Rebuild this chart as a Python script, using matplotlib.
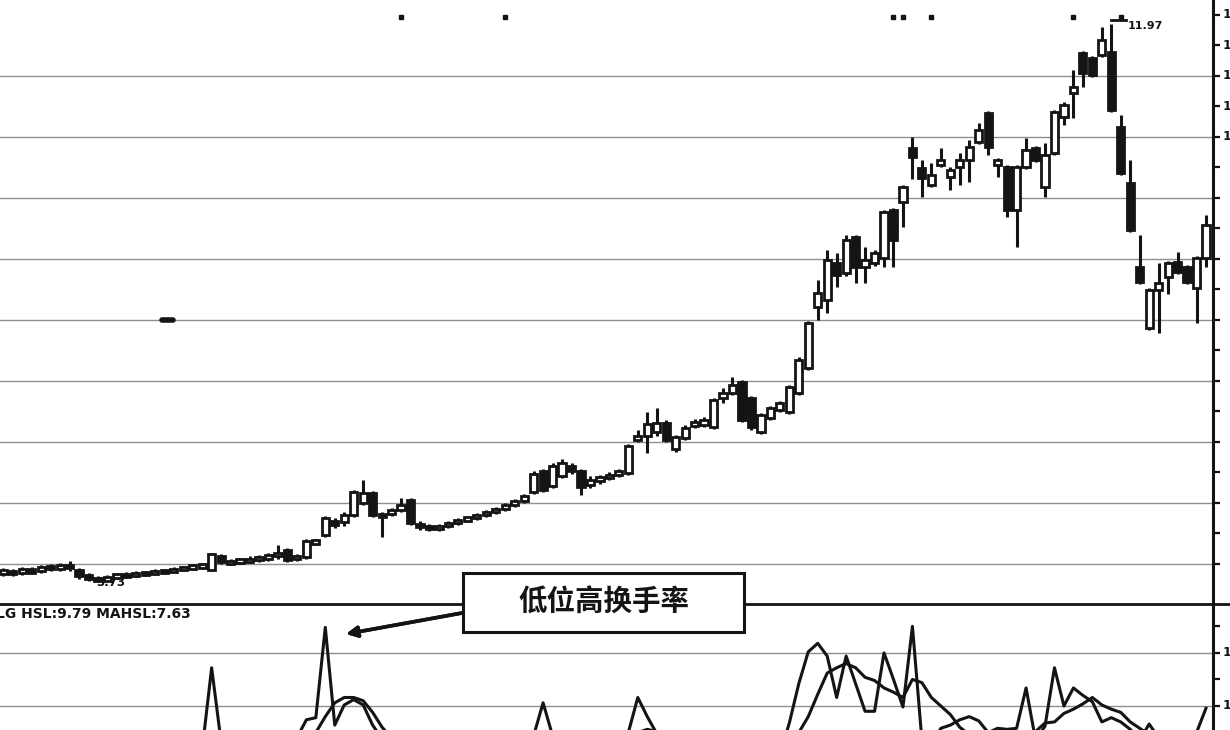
import matplotlib
matplotlib.use("Agg")
import matplotlib.pyplot as plt
from matplotlib.patches import Rectangle
from matplotlib.lines import Line2D

# daily candles (price), left to right
opens = [
    3.85, 3.90, 3.87, 3.91, 3.90, 3.96, 3.93, 3.98, 3.91, 3.84,
    3.79, 3.75, 3.81, 3.84, 3.82, 3.87, 3.85, 3.90, 3.88, 3.93,
    3.94, 3.96, 3.91, 4.12, 4.01, 4.03, 4.04, 4.06, 4.09, 4.12,
    4.21, 4.07, 4.10, 4.31, 4.43, 4.63, 4.62, 4.72, 4.90, 5.05,
    4.74, 4.74, 4.80, 4.94, 4.59, 4.55, 4.52, 4.56, 4.60, 4.65,
    4.68, 4.72, 4.77, 4.81, 4.87, 4.93, 5.06, 5.37, 5.15, 5.30,
    5.45, 5.37, 5.16, 5.22, 5.27, 5.31, 5.34, 5.83, 5.89, 5.95,
    6.08, 5.70, 5.86, 6.04, 6.05, 6.02, 6.45, 6.52, 6.68, 6.45,
    5.95, 6.15, 6.27, 6.24, 6.52, 6.89, 7.79, 7.90, 8.44, 8.29,
    8.82, 8.38, 8.44, 8.51, 9.22, 9.34, 10.14, 9.84, 9.59, 9.89,
    9.71, 9.86, 9.96, 10.23, 10.65, 9.89, 9.86, 9.22, 9.86, 10.14,
    9.56, 10.06, 10.60, 10.95, 11.54, 11.47, 11.51, 11.55, 10.45, 9.62,
    8.38, 7.48, 8.04, 8.23, 8.46, 8.38, 8.07, 8.51]
closes = [
    3.91, 3.85, 3.93, 3.88, 3.96, 3.93, 3.98, 3.94, 3.82, 3.78,
    3.75, 3.81, 3.84, 3.82, 3.87, 3.85, 3.90, 3.88, 3.93, 3.94,
    3.97, 3.98, 4.15, 4.03, 4.04, 4.06, 4.07, 4.10, 4.12, 4.16,
    4.06, 4.12, 4.34, 4.34, 4.68, 4.58, 4.72, 5.06, 5.05, 4.72,
    4.70, 4.80, 4.87, 4.60, 4.55, 4.52, 4.56, 4.60, 4.65, 4.68,
    4.72, 4.77, 4.81, 4.87, 4.93, 5.00, 5.33, 5.09, 5.45, 5.49,
    5.37, 5.14, 5.24, 5.28, 5.31, 5.37, 5.74, 5.89, 6.06, 6.08,
    5.83, 5.87, 6.01, 6.10, 6.12, 6.42, 6.52, 6.64, 6.12, 6.02,
    6.20, 6.30, 6.37, 6.61, 7.01, 7.56, 8.00, 8.48, 8.26, 8.78,
    8.38, 8.48, 8.59, 9.19, 8.78, 9.56, 10.00, 9.70, 9.74, 9.96,
    9.81, 9.96, 10.15, 10.40, 10.15, 9.96, 9.22, 9.86, 10.11, 9.96,
    10.03, 10.67, 10.77, 11.04, 11.24, 11.21, 11.73, 10.70, 9.77, 8.93,
    8.16, 8.04, 8.15, 8.44, 8.31, 8.16, 8.51, 9.00]
highs = [
    3.94, 3.93, 3.96, 3.96, 3.98, 4.00, 4.01, 4.04, 3.94, 3.87,
    3.82, 3.84, 3.87, 3.88, 3.90, 3.90, 3.93, 3.93, 3.96, 3.97,
    4.00, 4.01, 4.16, 4.15, 4.07, 4.09, 4.12, 4.13, 4.16, 4.28,
    4.24, 4.15, 4.37, 4.37, 4.71, 4.68, 4.77, 5.09, 5.24, 5.08,
    4.77, 4.83, 4.97, 4.97, 4.63, 4.59, 4.59, 4.63, 4.68, 4.71,
    4.75, 4.80, 4.84, 4.90, 4.96, 5.03, 5.37, 5.40, 5.49, 5.55,
    5.49, 5.40, 5.30, 5.31, 5.36, 5.40, 5.77, 5.98, 6.24, 6.30,
    6.12, 5.90, 6.05, 6.14, 6.17, 6.45, 6.60, 6.76, 6.71, 6.48,
    6.23, 6.33, 6.40, 6.64, 7.05, 7.59, 8.19, 8.63, 8.59, 8.85,
    8.85, 8.68, 8.63, 9.22, 9.25, 9.59, 10.30, 9.96, 9.92, 10.14,
    9.86, 10.06, 10.26, 10.51, 10.68, 9.99, 9.89, 9.89, 10.28, 10.17,
    10.21, 10.70, 10.82, 11.29, 11.57, 11.50, 11.92, 11.97, 10.62, 9.96,
    8.85, 8.07, 8.44, 8.47, 8.60, 8.41, 8.54, 9.15]
lows = [
    3.82, 3.82, 3.84, 3.85, 3.87, 3.90, 3.90, 3.90, 3.78, 3.75,
    3.73, 3.75, 3.78, 3.79, 3.81, 3.82, 3.84, 3.85, 3.87, 3.90,
    3.91, 3.93, 3.90, 4.00, 3.98, 4.00, 4.01, 4.03, 4.04, 4.07,
    4.03, 4.04, 4.07, 4.28, 4.40, 4.53, 4.56, 4.70, 4.87, 4.70,
    4.40, 4.71, 4.77, 4.58, 4.50, 4.49, 4.49, 4.53, 4.58, 4.62,
    4.65, 4.70, 4.74, 4.78, 4.84, 4.90, 5.03, 5.06, 5.12, 5.27,
    5.33, 5.02, 5.12, 5.18, 5.24, 5.28, 5.31, 5.80, 5.64, 5.89,
    5.80, 5.65, 5.83, 6.01, 6.02, 5.99, 6.37, 6.49, 6.10, 5.98,
    5.92, 6.12, 6.24, 6.21, 6.49, 6.86, 7.60, 7.70, 8.09, 8.25,
    8.15, 8.15, 8.40, 8.38, 8.38, 8.97, 9.68, 9.41, 9.56, 9.86,
    9.52, 9.59, 9.64, 10.20, 10.03, 9.71, 9.12, 8.68, 9.83, 9.93,
    9.41, 10.03, 10.48, 10.58, 11.04, 11.19, 11.48, 10.67, 9.74, 8.90,
    8.13, 7.45, 7.41, 7.99, 8.28, 8.13, 7.56, 8.38]

# turnover rate (HSL) and its moving average
hsl = [
    4.6, 4.2, 5.0, 3.9, 4.4, 4.0, 4.8, 5.2, 6.1, 5.6,
    6.5, 4.9, 4.3, 3.9, 4.5, 4.1, 3.8, 4.6, 4.0, 4.9,
    5.3, 5.9, 13.6, 6.6, 5.3, 4.7, 5.6, 5.0, 5.9, 6.8,
    6.3, 7.0, 8.7, 8.9, 17.4, 8.2, 10.1, 10.6, 10.1, 8.2,
    6.9, 6.2, 6.8, 7.3, 5.3, 4.7, 4.4, 5.0, 4.6, 4.9,
    5.3, 5.0, 5.7, 6.3, 5.9, 7.0, 7.2, 10.3, 7.2, 6.5,
    5.3, 6.2, 5.2, 4.7, 4.4, 5.3, 7.5, 10.8, 9.0, 7.4,
    6.8, 5.6, 5.2, 4.7, 5.3, 7.1, 6.2, 6.6, 7.3, 6.8,
    5.7, 5.0, 5.4, 8.4, 12.1, 15.1, 15.9, 14.7, 10.8, 14.7,
    12.1, 9.5, 9.5, 15.0, 12.5, 9.9, 17.5, 6.8, 6.3, 7.9,
    8.2, 8.7, 9.0, 8.6, 7.5, 7.9, 7.8, 7.9, 11.7, 6.8,
    8.1, 13.6, 10.0, 11.7, 11.0, 10.4, 8.5, 8.9, 8.5, 7.8,
    6.8, 8.3, 7.0, 6.5, 6.2, 6.6, 7.5, 9.79]
mahsl = [
    5.0, 4.9, 4.8, 4.7, 4.6, 4.4, 4.5, 4.6, 5.0, 5.2,
    5.5, 5.5, 5.5, 5.3, 5.0, 4.4, 4.3, 4.3, 4.2, 4.4,
    4.7, 4.9, 6.8, 7.0, 7.2, 7.1, 7.2, 5.5, 5.4, 5.6,
    5.9, 6.1, 6.9, 7.5, 9.0, 10.3, 10.8, 10.8, 10.5, 9.4,
    8.0, 7.0, 6.6, 6.2, 6.0, 5.7, 5.4, 5.3, 5.2, 5.0,
    4.9, 5.0, 5.1, 5.4, 5.6, 5.8, 6.2, 7.2, 7.4, 7.5,
    7.1, 6.6, 6.1, 5.6, 5.3, 5.0, 5.6, 7.5, 7.8, 7.6,
    7.5, 7.0, 6.6, 6.2, 5.8, 5.9, 6.0, 6.3, 6.5, 6.6,
    6.5, 6.2, 6.0, 6.2, 7.5, 9.0, 11.1, 13.1, 13.6, 14.0,
    13.6, 12.7, 12.4, 11.7, 11.3, 10.8, 12.5, 12.2, 10.8, 10.0,
    9.2, 8.0, 7.3, 7.2, 7.4, 7.2, 7.0, 7.2, 7.6, 7.6,
    8.4, 8.5, 9.3, 9.7, 10.2, 10.8, 10.1, 9.7, 9.4, 8.5,
    7.9, 7.3, 7.0, 6.8, 6.9, 7.1, 7.3, 7.63]

event_days = [42, 53, 94, 95, 98, 113, 118]   # little marks along the top
price_grid = [4.0, 4.9, 5.8, 6.7, 7.6, 8.5, 9.4, 10.3, 11.2]
price_ticks = [4.0 + 0.45 * k for k in range(19)]
hsl_grid = [10, 15]
hsl_ticks = [10, 12.5, 15, 17.5]

INK = '#141414'
GRID = '#8f8f8f'
W, H = 1230, 730
bot_h = 126 / H
ax_w = 1213 / W

fig = plt.figure(figsize=(12.3, 7.3), dpi=100)
fig.patch.set_facecolor('white')
ax = fig.add_axes([0, bot_h, ax_w, 1 - bot_h])
ax2 = fig.add_axes([0, 0, ax_w, bot_h])

n = len(opens)
xlim = (-0.35, 127.74)

# candles
bw = 0.76
for i in range(n):
    o, c, h, l = opens[i], closes[i], highs[i], lows[i]
    ax.plot([i, i], [l, h], color=INK, lw=2.2, zorder=2, solid_capstyle='butt')
    lo, hi = min(o, c), max(o, c)
    if hi - lo < 0.05:
        mid = (lo + hi) / 2
        lo, hi = mid - 0.025, mid + 0.025
    face = 'white' if c >= o else INK
    ax.add_patch(Rectangle((i - bw / 2, lo), bw, hi - lo, facecolor=face,
                           edgecolor=INK, lw=2.0, zorder=3))

for y in price_grid:
    ax.axhline(y, color=GRID, lw=1.0, zorder=1)

ax.plot(event_days, [12.07] * len(event_days), 's', color=INK, ms=3, zorder=4)
ax.plot([16.8, 17.9], [7.60, 7.60], color=INK, lw=4, solid_capstyle='round')

# max / min labels
imax = highs.index(max(highs))
ax.plot([imax, imax + 1.6], [max(highs) + 0.05, max(highs) + 0.05], color=INK, lw=2)
ax.text(imax + 1.7, max(highs) - 0.03, '%.2f' % max(highs), fontsize=8,
        fontweight='bold', color=INK, va='center', ha='left')
imin = lows.index(min(lows))
ax.text(imin - 0.2, min(lows) - 0.01, '%.2f' % min(lows), fontsize=8.5,
        fontweight='bold', color=INK, va='center', ha='left', zorder=1)

ax.set_xlim(*xlim)
ax.set_ylim(3.41, 12.32)

# lower panel: turnover
ax2.plot(range(n), hsl, color=INK, lw=2.2)
ax2.plot(range(n), mahsl, color=INK, lw=2.2)
for y in hsl_grid:
    ax2.axhline(y, color=GRID, lw=1.0, zorder=0)
ax2.set_xlim(*xlim)
ax2.set_ylim(7.74, 19.6)
ax2.text(-0.003, 0.92, 'LG HSL:%.2f MAHSL:%.2f' % (hsl[-1], mahsl[-1]),
         transform=ax2.transAxes, fontsize=10, fontweight='bold', color=INK,
         va='center', ha='left')

# right axis: labels sit mostly past the picture's edge, as in the scan
lab_x = 1 + 49 / 1213
for a, ticks, labelled in ((ax, price_ticks, price_ticks), (ax2, hsl_ticks, hsl_grid)):
    for s in ('top', 'left', 'bottom'):
        a.spines[s].set_visible(False)
    a.spines['right'].set_linewidth(2.2)
    a.spines['right'].set_color(INK)
    a.set_xticks([])
    a.yaxis.tick_right()
    a.set_yticks(ticks)
    a.tick_params(axis='y', direction='out', length=5, width=1.6, color=INK,
                  labelright=False)
    for t in labelled:
        a.text(lab_x, t, '%.2f' % t, transform=a.get_yaxis_transform(),
               ha='right', va='center', fontsize=9, fontweight='bold',
               color=INK, clip_on=False)

# divider between the panels
fig.add_artist(Line2D([0, 1], [bot_h, bot_h], color=INK, lw=2.0))

# callout
fig.add_artist(Rectangle((463 / W, 1 - 632 / H), 281 / W, 59 / H,
                         transform=fig.transFigure, facecolor='white',
                         edgecolor=INK, lw=2.2, zorder=5))
fig.text(603.5 / W, 1 - 603 / H, '低位高换手率', fontsize=20.5, fontweight='bold',
         family=['Noto Sans CJK SC', 'DejaVu Sans'], color=INK,
         ha='center', va='center', zorder=6)
fig.add_artist(plt.annotate('', xy=(346 / W, 1 - 634 / H), xytext=(462 / W, 1 - 613 / H),
                            xycoords='figure fraction', textcoords='figure fraction',
                            arrowprops=dict(arrowstyle='-|>', color=INK, lw=2.6,
                                            mutation_scale=16, shrinkA=0, shrinkB=0)))

fig.savefig('out.png', dpi=100, facecolor='white')
